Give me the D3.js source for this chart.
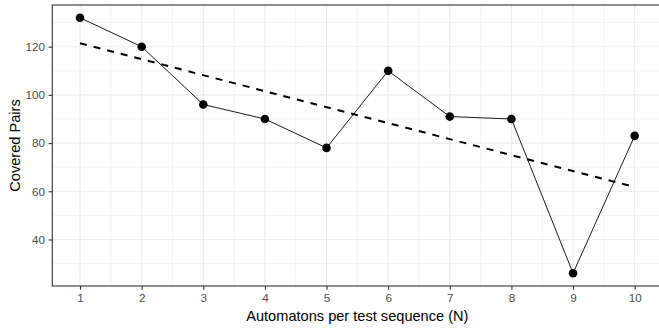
<!DOCTYPE html>
<html>
<head>
<meta charset="utf-8">
<script src="https://cdn.jsdelivr.net/npm/d3@7"></script>
<style>
  body { margin: 0; background: #fff; }
  svg { display: block; font-family: "Liberation Sans", Arial, sans-serif; }
</style>
</head>
<body>
<div id="chart"></div>
<script>
// data
const automatons = [1, 2, 3, 4, 5, 6, 7, 8, 9, 10];
const coveredPairs = [132, 120, 96, 90, 78, 110, 91, 90, 26, 83];
const xTicks = [1, 2, 3, 4, 5, 6, 7, 8, 9, 10];
const yTicks = [40, 60, 80, 100, 120];

const width = 659, height = 331;
const marginTop = 5, marginLeft = 52.3, marginBottom = 45;
const panelW = 610.1;            // panel runs a little past the right edge
const panelH = height - marginTop - marginBottom;

const svg = d3.select("#chart")
  .append("svg")
  .attr("width", width)
  .attr("height", height);

const g = svg.append("g")
  .attr("transform", `translate(${marginLeft},${marginTop})`);

// ggplot style 5% expansion
const xr = d3.extent(automatons), xPad = (xr[1] - xr[0]) * 0.05;
const yr = d3.extent(coveredPairs), yPad = (yr[1] - yr[0]) * 0.05;

const x = d3.scaleLinear().domain([xr[0] - xPad, xr[1] + xPad]).range([0, panelW]);
const y = d3.scaleLinear().domain([yr[0] - yPad, yr[1] + yPad]).range([panelH, 0]);

// grid, minor then major
const xMinor = d3.range(0.5, 11, 1).filter(v => v > x.domain()[0] && v < x.domain()[1]);
const yMinor = d3.range(30, 140, 20);

g.append("g").selectAll("line").data(xMinor).join("line")
  .attr("x1", d => x(d)).attr("x2", d => x(d)).attr("y1", 0).attr("y2", panelH)
  .attr("stroke", "#ebebeb").attr("stroke-width", 0.55);
g.append("g").selectAll("line").data(yMinor).join("line")
  .attr("y1", d => y(d)).attr("y2", d => y(d)).attr("x1", 0).attr("x2", panelW)
  .attr("stroke", "#ebebeb").attr("stroke-width", 0.55);
g.append("g").selectAll("line").data(xTicks).join("line")
  .attr("x1", d => x(d)).attr("x2", d => x(d)).attr("y1", 0).attr("y2", panelH)
  .attr("stroke", "#ebebeb").attr("stroke-width", 1.1);
g.append("g").selectAll("line").data(yTicks).join("line")
  .attr("y1", d => y(d)).attr("y2", d => y(d)).attr("x1", 0).attr("x2", panelW)
  .attr("stroke", "#ebebeb").attr("stroke-width", 1.1);

// linear fit (geom_smooth method = lm)
const mx = d3.mean(automatons), my = d3.mean(coveredPairs);
const slope = d3.sum(automatons, (v, i) => (v - mx) * (coveredPairs[i] - my)) /
              d3.sum(automatons, v => (v - mx) * (v - mx));
const intercept = my - slope * mx;
const fit = [xr[0], xr[1]].map(v => ({ x: v, y: intercept + slope * v }));

const points = automatons.map((v, i) => ({ x: v, y: coveredPairs[i] }));

g.append("path")
  .datum(points)
  .attr("fill", "none")
  .attr("stroke", "#000")
  .attr("stroke-width", 0.9)
  .attr("d", d3.line().x(d => x(d.x)).y(d => y(d.y)));

g.append("path")
  .datum(fit)
  .attr("fill", "none")
  .attr("stroke", "#000")
  .attr("stroke-width", 2)
  .attr("stroke-dasharray", "7,7")
  .attr("d", d3.line().x(d => x(d.x)).y(d => y(d.y)));

g.append("g").selectAll("circle").data(points).join("circle")
  .attr("cx", d => x(d.x)).attr("cy", d => y(d.y)).attr("r", 4.3)
  .attr("fill", "#000");

// panel border
g.append("rect")
  .attr("x", 0).attr("y", 0).attr("width", panelW).attr("height", panelH)
  .attr("fill", "none").attr("stroke", "#333333").attr("stroke-width", 1.1);

// axes
const xAxis = g.append("g")
  .attr("transform", `translate(0,${panelH})`)
  .call(d3.axisBottom(x).tickValues(xTicks).tickSize(3.7).tickPadding(3.5));
const yAxis = g.append("g")
  .call(d3.axisLeft(y).tickValues(yTicks).tickSize(3.7).tickPadding(3.5));

[xAxis, yAxis].forEach(a => {
  a.select(".domain").remove();
  a.selectAll(".tick line").attr("stroke", "#333333").attr("stroke-width", 1.1);
  a.selectAll(".tick text")
    .attr("fill", "#4d4d4d")
    .style("font-size", "11.7px")
    .style("font-family", "'Liberation Sans', Arial, sans-serif");
});

// axis titles
svg.append("text")
  .attr("x", marginLeft + panelW / 2)
  .attr("y", 321)
  .attr("text-anchor", "middle")
  .style("font-size", "14.6px")
  .text("Automatons per test sequence (N)");

svg.append("text")
  .attr("transform", `translate(20,${marginTop + panelH / 2}) rotate(-90)`)
  .attr("text-anchor", "middle")
  .style("font-size", "14.6px")
  .text("Covered Pairs");
</script>
</body>
</html>
